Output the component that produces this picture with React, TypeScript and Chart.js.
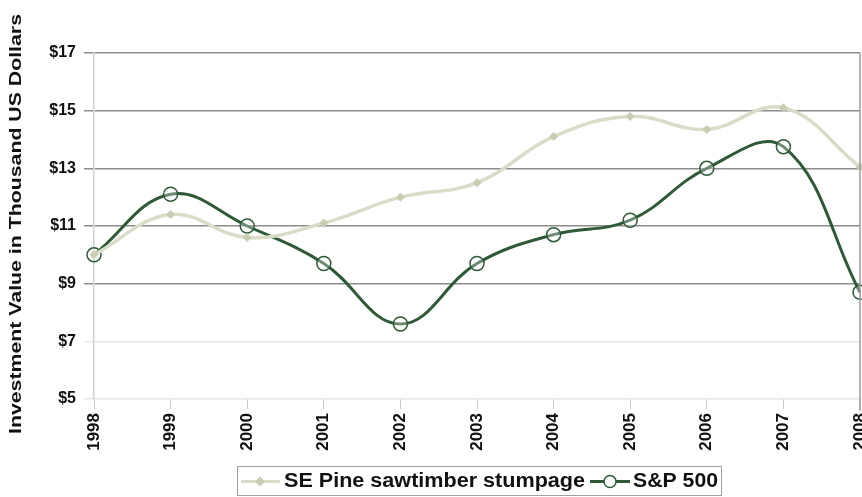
import React, { useEffect, useRef } from "react";
import { Chart, registerables } from "chart.js";

Chart.register(...registerables);

const years = ["1998", "1999", "2000", "2001", "2002", "2003", "2004", "2005", "2006", "2007", "2008"];
const pineValues = [10.0, 11.4, 10.6, 11.1, 12.0, 12.5, 14.1, 14.8, 14.35, 15.1, 13.05];
const spValues = [10.0, 12.1, 11.0, 9.7, 7.6, 9.7, 10.7, 11.2, 13.0, 13.75, 8.7];
const pineLabel = "SE Pine sawtimber stumpage";
const spLabel = "S&P 500";
const yTitle = "Investment Value in Thousand US Dollars";

const PINE = "#d9dcc6";
const PINE_MARK = "#c9cdb2";
const SP = "#2e5a38";
const FONT = "'Liberation Sans', Arial, sans-serif";

function stretchedText(ctx: any, text: string, x: number, y: number, targetW: number) {
  const w = ctx.measureText(text).width;
  ctx.save();
  ctx.translate(x, y);
  ctx.scale(targetW / w, 1);
  ctx.fillText(text, 0, 0);
  ctx.restore();
}

const decorPlugin = {
  id: "decor",
  afterDraw(chart: any) {
    const ctx = chart.ctx;
    const area = chart.chartArea;
    ctx.save();
    // right border of plot
    ctx.strokeStyle = "#9a9a9a";
    ctx.lineWidth = 1.5;
    ctx.beginPath();
    ctx.moveTo(area.right, area.top);
    ctx.lineTo(area.right, area.bottom + 12);
    ctx.stroke();

    // y-axis title, stretched along its length
    ctx.save();
    ctx.font = `bold 16px ${FONT}`;
    const tw = ctx.measureText(yTitle).width;
    const targetLen = 420;
    ctx.translate(17, 224);
    ctx.rotate(-Math.PI / 2);
    ctx.scale(targetLen / tw, 1);
    ctx.fillStyle = "#111";
    ctx.textAlign = "center";
    ctx.textBaseline = "middle";
    ctx.fillText(yTitle, 0, 0);
    ctx.restore();

    // legend
    ctx.font = `bold 20px ${FONT}`;
    const x0 = 237;
    const y0 = 466;
    const h = 29;
    const x1 = 721;
    ctx.strokeStyle = "#a0a0a0";
    ctx.lineWidth = 1;
    ctx.strokeRect(x0 + 0.5, y0 + 0.5, x1 - x0, h);
    const cy = y0 + h / 2 + 1;
    // pine entry
    ctx.strokeStyle = PINE;
    ctx.lineWidth = 3;
    ctx.beginPath();
    ctx.moveTo(241, cy);
    ctx.lineTo(280, cy);
    ctx.stroke();
    ctx.fillStyle = PINE_MARK;
    ctx.beginPath();
    const mx = 260;
    ctx.moveTo(mx, cy - 5);
    ctx.lineTo(mx + 5, cy);
    ctx.lineTo(mx, cy + 5);
    ctx.lineTo(mx - 5, cy);
    ctx.closePath();
    ctx.fill();
    ctx.fillStyle = "#111";
    ctx.textBaseline = "middle";
    ctx.textAlign = "left";
    stretchedText(ctx, pineLabel, 284, cy, 301);
    // S&P entry
    ctx.strokeStyle = SP;
    ctx.lineWidth = 3;
    ctx.beginPath();
    ctx.moveTo(590, cy);
    ctx.lineTo(630, cy);
    ctx.stroke();
    ctx.fillStyle = "#fff";
    ctx.lineWidth = 1.5;
    ctx.beginPath();
    ctx.arc(610, cy, 6, 0, Math.PI * 2);
    ctx.fill();
    ctx.stroke();
    ctx.fillStyle = "#111";
    stretchedText(ctx, spLabel, 633, cy, 85);
    ctx.restore();
  },
};

export default function App() {
  const ref = useRef<HTMLCanvasElement>(null);
  useEffect(() => {
    if (!ref.current) return;
    const chart = new Chart(ref.current, {
      type: "line",
      data: {
        labels: years,
        datasets: [
          {
            label: pineLabel,
            data: pineValues,
            borderColor: PINE,
            backgroundColor: PINE_MARK,
            borderWidth: 3.5,
            pointStyle: "rectRot",
            pointRadius: 4.5,
            pointBorderWidth: 0,
            pointBackgroundColor: PINE_MARK,
            tension: 0.4,
            clip: false as any,
          },
          {
            label: spLabel,
            data: spValues,
            borderColor: SP,
            backgroundColor: "rgba(255,255,255,0)",
            borderWidth: 3,
            pointStyle: "circle",
            pointRadius: 7,
            pointBorderWidth: 1.5,
            pointBorderColor: SP,
            pointBackgroundColor: "rgba(255,255,255,0.3)",
            tension: 0.4,
            clip: false as any,
          },
        ],
      },
      options: {
        animation: false,
        responsive: false,
        maintainAspectRatio: false,
        layout: { autoPadding: false, padding: { top: 53, right: 2, bottom: 38, left: 0 } },
        plugins: {
          legend: { display: false },
          tooltip: { enabled: false },
        },
        scales: {
          x: {
            type: "category",
            offset: false,
            grid: {
              drawOnChartArea: false,
              drawTicks: true,
              tickLength: 10,
              color: "#c8c8c8",
            },
            border: { display: false },
            ticks: {
              minRotation: 90,
              maxRotation: 90,
              color: "#111",
              padding: 4,
              font: { family: FONT, size: 17, weight: "bold" },
            },
            afterFit(scale: any) {
              scale.height = 60;
              scale.paddingLeft = 0;
              scale.paddingRight = 0;
            },
          },
          y: {
            min: 5,
            max: 17,
            ticks: {
              stepSize: 2,
              color: "#111",
              padding: 8,
              font: { family: FONT, size: 16, weight: "bold" },
              callback: (v: any) => "$" + v,
            },
            grid: {
              color: (c: any) => (c.tick && c.tick.value <= 7 ? "#e6e6e6" : "#8c8c8c"),
              lineWidth: 1.5,
              tickLength: 10,
            },
            border: { display: true, color: "#d0d0d0", width: 1.5 },
            afterFit(scale: any) {
              scale.width = 94;
              scale.paddingTop = 0;
              scale.paddingBottom = 0;
            },
          },
        },
      },
      plugins: [decorPlugin],
    });
    return () => chart.destroy();
  }, []);
  return (
    <div style={{ position: "fixed", left: 0, top: 0, width: 862, height: 497, background: "#fff" }}>
      <canvas ref={ref} width={862} height={497} style={{ width: 862, height: 497 }} />
    </div>
  );
}
